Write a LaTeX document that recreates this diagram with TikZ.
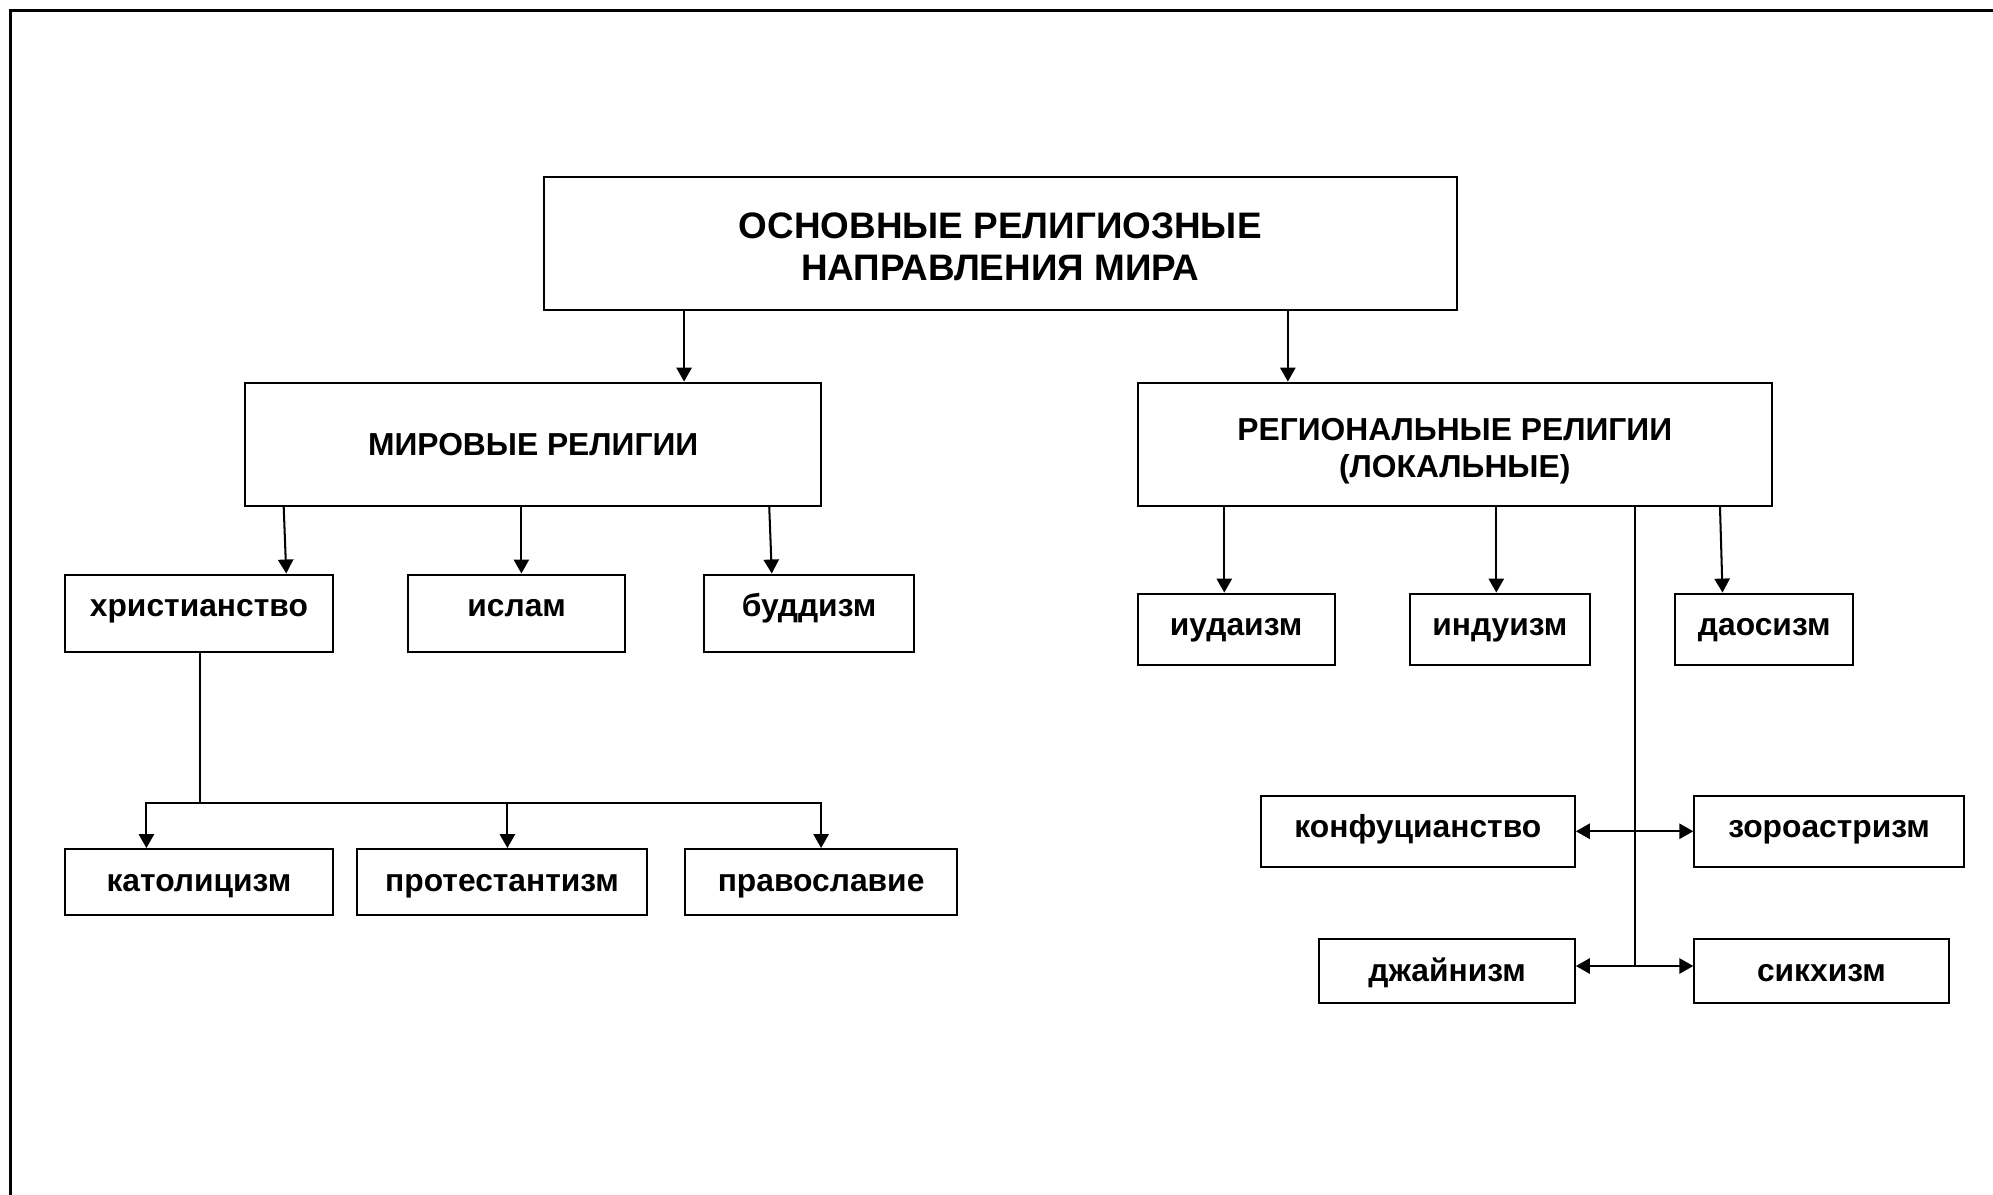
\documentclass[tikz,border=0pt]{standalone}
\usepackage{fontspec}
\setmainfont{Liberation Sans}
\usetikzlibrary{arrows.meta}

\tikzset{
  box/.style={draw, line width=1.6pt, inner sep=0pt, align=center,
    font=\bfseries\fontsize{25}{29}\selectfont},
  lbox/.style={box, text height=33pt, text depth=#1},
  link/.style={line width=1.6pt},
  arr/.style={link, -{Triangle[length=11pt,width=12pt]}},
  darr/.style={link, {Triangle[length=11pt,width=12pt]}-{Triangle[length=11pt,width=12pt]}}
}

\begin{document}
\begin{tikzpicture}[x=1pt, y=-1pt]
        \useasboundingbox (0,0) rectangle (1568,939.5);
        \draw[line width=2.4pt] (8,950) -- (8,8) -- (1580,8);

        \node[box, minimum width=718pt, minimum height=105pt, text height=64pt, text depth=6pt,
          font=\bfseries\fontsize{29}{33}\selectfont] (osn) at (787,191.5)
          {ОСНОВНЫЕ РЕЛИГИОЗНЫЕ\\НАПРАВЛЕНИЯ МИРА};
        \node[box, minimum width=453pt, minimum height=97pt] (mir) at (419.5,349.5) {МИРОВЫЕ РЕЛИГИИ};
        \node[box, minimum width=499pt, minimum height=97pt, text height=57pt, text depth=5pt]
          (reg) at (1144.5,349.5) {РЕГИОНАЛЬНЫЕ РЕЛИГИИ\\(ЛОКАЛЬНЫЕ)};

        \node[lbox=28pt, minimum width=211pt] (xr) at (156.5,482.5) {христианство};
        \node[lbox=28pt, minimum width=171pt] (isl) at (406.5,482.5) {ислам};
        \node[lbox=28pt, minimum width=165pt] (bud) at (636.5,482.5) {буддизм};
        \node[lbox=19pt, minimum width=211pt] (kat) at (156.5,694) {католицизм};
        \node[lbox=19pt, minimum width=228pt] (prot) at (395,694) {протестантизм};
        \node[lbox=19pt, minimum width=214pt] (prav) at (646,694) {православие};

        \node[lbox=23pt, minimum width=155pt] (iud) at (972.5,495) {иудаизм};
        \node[lbox=23pt, minimum width=142pt] (ind) at (1180,495) {индуизм};
        \node[lbox=23pt, minimum width=140pt] (dao) at (1388,495) {даосизм};
        \node[lbox=23pt, minimum width=247pt] (konf) at (1115.5,654) {конфуцианство};
        \node[lbox=23pt, minimum width=212pt] (zor) at (1439,654) {зороастризм};
        \node[lbox=17pt, minimum width=201pt] (dzh) at (1138.5,764) {джайнизм};
        \node[lbox=17pt, minimum width=200pt] (sikh) at (1433,764) {сикхизм};

        % top level
        \draw[arr] ([xshift=111pt]osn.south west) -- ([xshift=346pt]mir.north west);
        \draw[arr] ([xshift=586pt]osn.south west) -- ([xshift=119pt]reg.north west);

        % world religions
        \draw[arr] ([xshift=31pt]mir.south west) -- ([xshift=175pt]xr.north west);
        \draw[arr] ([xshift=218pt]mir.south west) -- ([xshift=90pt]isl.north west);
        \draw[arr] ([xshift=413pt]mir.south west) -- ([xshift=54pt]bud.north west);

        \coordinate (xfork) at (157.5,632);
        \coordinate (katin) at ([xshift=65pt]kat.north west);
        \coordinate (protin) at ([xshift=119pt]prot.north west);
        \draw[link] (xr.south -| xfork) -- (xfork);
        \draw[arr] (xfork) -| (katin);
        \draw[arr] (xfork) -| (prav.north);
        \draw[arr] (protin |- xfork) -- (protin);

        % regional religions
        \draw[arr] ([xshift=69pt]reg.south west) -- ([xshift=69pt]iud.north west);
        \draw[arr] ([xshift=283pt]reg.south west) -- ([xshift=69pt]ind.north west);
        \draw[arr] ([xshift=459pt]reg.south west) -- ([xshift=38pt]dao.north west);

        \coordinate (rtop) at ([xshift=392pt]reg.south west);
        \coordinate (dzhin) at ([yshift=4pt]dzh.east);
        \coordinate (sikhin) at ([yshift=4pt]sikh.west);
        \draw[link] (rtop) -- (rtop |- dzhin);
        \draw[darr] (konf.east) -- (zor.west);
        \draw[darr] (dzhin) -- (sikhin);
\end{tikzpicture}
\end{document}
